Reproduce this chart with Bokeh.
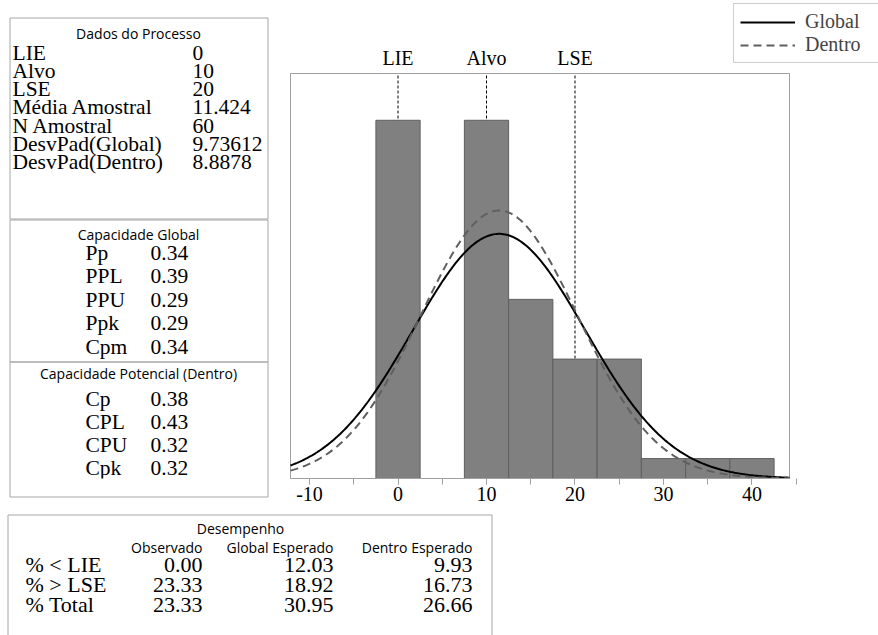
import math
from bokeh.plotting import figure
from bokeh.layouts import column
from bokeh.models import Range1d, FixedTicker, LinearAxis, Legend, LegendItem
from bokeh.core.properties import value
from bokeh.embed import file_html
from bokeh.resources import INLINE

# ---------------- data ----------------
lie = 0
alvo = 10
lse = 20
spec_values = [lie, alvo, lse]
spec_names = ["LIE", "Alvo", "LSE"]
n_amostral = 60
media = 11.424
sd_global = 9.73612
sd_dentro = 8.8878

bin_centers = [0, 5, 10, 15, 20, 25, 30, 35, 40]
bin_counts = [18, 0, 18, 9, 6, 6, 1, 1, 1]
bin_width = 5
x_ticks = [-10, 0, 10, 20, 30, 40]
x_minor = [-10, -5, 0, 5, 10, 15, 20, 25, 30, 35, 40, 45]
x_lo, x_hi = -12.15, 44.24
y_hi = 20.35

proc_labels = ["LIE", "Alvo", "LSE", "Média Amostral", "N Amostral",
               "DesvPad(Global)", "DesvPad(Dentro)"]
proc_values = ["0", "10", "20", "11.424", "60", "9.73612", "8.8878"]

glob_labels = ["Pp", "PPL", "PPU", "Ppk", "Cpm"]
glob_values = ["0.34", "0.39", "0.29", "0.29", "0.34"]

pot_labels = ["Cp", "CPL", "CPU", "Cpk"]
pot_values = ["0.38", "0.43", "0.32", "0.32"]

perf_rows = ["% < LIE", "% > LSE", "% Total"]
perf_obs = ["0.00", "23.33", "23.33"]
perf_glob = ["12.03", "18.92", "30.95"]
perf_dentro = ["9.93", "16.73", "26.66"]
perf_cols = ["Observado", "Global Esperado", "Dentro Esperado"]

# ---------------- layout constants (pixels) ----------------
W, H = 878, 635
FL, FR, FT, FB = 290, 789, 73, 478      # histogram frame
AX_H = 34                                # x-axis panel height
SERIF = "Liberation Serif"
SANS = "Open Sans"
BOX = "#a6a6a6"

sx = (FR - FL) / (x_hi - x_lo)
sy = (FB - FT) / y_hi
hx0 = x_lo - FL / sx
hx1 = x_hi + (W - FR) / sx
hy1 = FB / sy


def txt(p, x, y, t, size, font=SERIF, align="left", **kw):
    p.text(x=x, y=y, text=t, text_font=value(font), text_font_size=size,
           text_align=align, text_baseline="middle", text_color="black", **kw)


def boxes(p):
    p.quad(left=[9.5, 9.5, 9.5], right=[267.5, 267.5, 267.5],
           top=[17.5, 219.5, 361.5], bottom=[218.5, 361.5, 496.5],
           fill_color=None, line_color=BOX)
    p.quad(left=[7.5], right=[491.5], top=[514.5], bottom=[700],
           fill_color=None, line_color=BOX)


# ---------------- top figure: tables + histogram ----------------
top = figure(width=W, height=FB + AX_H, x_range=Range1d(0, W),
             y_range=Range1d(FB, 0), min_border_left=0, min_border_right=0,
             min_border_top=0, min_border_bottom=AX_H,
             x_axis_location=None, y_axis_location=None,
             toolbar_location=None, output_backend="svg")
top.grid.visible = False
top.outline_line_color = None
top.extra_x_ranges = {"hx": Range1d(hx0, hx1)}
top.extra_y_ranges = {"hy": Range1d(0, hy1)}

boxes(top)

txt(top, [138], [33], ["Dados do Processo"], "14px", SANS, "center")
ys1 = [52 + 18.3 * i for i in range(len(proc_labels))]
txt(top, [12] * len(proc_labels), ys1, proc_labels, "21.5px")
txt(top, [192] * len(proc_values), ys1, proc_values, "21.5px")

txt(top, [138], [234], ["Capacidade Global"], "14px", SANS, "center")
ys2 = [252 + 23.5 * i for i in range(len(glob_labels))]
txt(top, [85] * len(glob_labels), ys2, glob_labels, "21.5px")
txt(top, [150] * len(glob_values), ys2, glob_values, "21.5px")

txt(top, [138], [373], ["Capacidade Potencial (Dentro)"], "14px", SANS, "center")
ys3 = [398 + 23 * i for i in range(len(pot_labels))]
txt(top, [85] * len(pot_labels), ys3, pot_labels, "21.5px")
txt(top, [150] * len(pot_values), ys3, pot_values, "21.5px")

# histogram (drawn through its own ranges)
H_R = dict(x_range_name="hx", y_range_name="hy")
top.quad(left=[x_lo], right=[x_hi], bottom=[0], top=[y_hi], fill_color=None,
         line_color="#a0a0a0", **H_R)
top.segment(x0=spec_values, x1=spec_values, y0=[0] * 3, y1=[y_hi] * 3,
            line_color="black", line_width=1, line_dash="3 2", **H_R)
top.vbar(x=bin_centers, top=bin_counts, width=bin_width, bottom=0,
         fill_color="#808080", line_color="#5e5e5e", line_width=1, **H_R)

xs = [x_lo + i * (x_hi - x_lo) / 300 for i in range(301)]


def normal_curve(mu, sd):
    k = n_amostral * bin_width / (sd * math.sqrt(2 * math.pi))
    return [k * math.exp(-0.5 * ((x - mu) / sd) ** 2) for x in xs]


r_glob = top.line(xs, normal_curve(media, sd_global), line_color="black",
                  line_width=2, **H_R)
r_dent = top.line(xs, normal_curve(media, sd_dentro), line_color="#5f5f5f",
                  line_width=2, line_dash="8 5", **H_R)

# spec-limit names above the frame
top.text(x=spec_values, y=[57] * 3, text=spec_names, text_font=value(SERIF),
         text_font_size="20px", text_align="center", text_baseline="middle",
         text_color="black", x_range_name="hx")

ax = LinearAxis(x_range_name="hx", bounds=(x_lo, x_hi),
                ticker=FixedTicker(ticks=x_ticks, minor_ticks=x_minor),
                major_label_overrides={t: str(t) for t in x_ticks})
ax.major_tick_out = 6
ax.major_tick_in = 0
ax.minor_tick_out = 6
ax.minor_tick_in = 0
ax.axis_line_color = "#a0a0a0"
ax.major_tick_line_color = "#a0a0a0"
ax.minor_tick_line_color = "#a0a0a0"
ax.major_label_text_font = SERIF
ax.major_label_text_font_size = "20px"
ax.major_label_text_color = "black"
ax.major_label_standoff = 2
top.add_layout(ax, "below")

legend = Legend(items=[LegendItem(label="Global", renderers=[r_glob]),
                       LegendItem(label="Dentro", renderers=[r_dent])],
                location=(733, FB - 63))
legend.label_text_font = SERIF
legend.label_text_font_size = "20px"
legend.border_line_color = "#a0a0a0"
legend.glyph_width = 55
legend.glyph_height = 20
legend.label_height = 20
legend.label_width = 90
legend.label_standoff = 10
legend.padding = 6
legend.spacing = 0
legend.margin = 0
top.add_layout(legend)

# ---------------- bottom figure: lower parts + performance table ----------------
bot = figure(width=W, height=H - FB, x_range=Range1d(0, W),
             y_range=Range1d(H, FB), min_border=0,
             x_axis_location=None, y_axis_location=None,
             toolbar_location=None, output_backend="svg")
bot.grid.visible = False
bot.outline_line_color = None
bot.background_fill_alpha = 0
bot.border_fill_alpha = 0
bot.margin = (-AX_H, 0, 0, 0)

boxes(bot)
txt(bot, [240], [528], ["Desempenho"], "14px", SANS, "center")
col_right = [202, 333, 472]
txt(bot, col_right, [547] * 3, perf_cols, "14px", SANS, "right")
ys4 = [564 + 20 * i for i in range(len(perf_rows))]
txt(bot, [25] * 3, ys4, perf_rows, "22px")
txt(bot, [col_right[0]] * 3, ys4, perf_obs, "22px", align="right")
txt(bot, [col_right[1]] * 3, ys4, perf_glob, "22px", align="right")
txt(bot, [col_right[2]] * 3, ys4, perf_dentro, "22px", align="right")

layout = column(top, bot)
open("out.html", "w").write(file_html(layout, INLINE))
